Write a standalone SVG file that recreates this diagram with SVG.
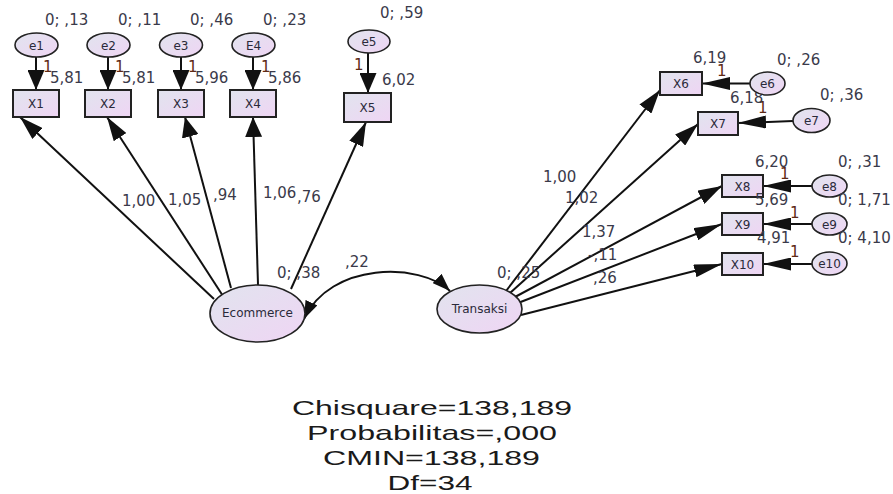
<svg xmlns="http://www.w3.org/2000/svg" width="893" height="494" viewBox="0 0 893 494">
<style>
.bg{fill:#ffffff}
.box{fill:url(#gf);stroke:#222;stroke-width:2}
.ell{fill:url(#gf);stroke:#222;stroke-width:1.6}
.nd{font-family:"DejaVu Sans",sans-serif;font-size:12px;fill:#2a2a3a;text-anchor:middle}
.lbl{font-family:"DejaVu Sans",sans-serif;font-size:15px;fill:#3a3a4a}
.one{font-family:"DejaVu Sans",sans-serif;font-size:15px;fill:#5e2a14}
.fit{font-family:"Liberation Sans",Arial,sans-serif;font-size:21px;fill:#1a1a1a;text-anchor:middle}
.c{fill:none;stroke:#111;stroke-width:2}
.av{marker-end:url(#av)}
.ad{marker-end:url(#ad)}
.ah{marker-end:url(#ah)}
</style>
<defs>
<linearGradient id="gf" x1="0" y1="0" x2="1" y2="1">
<stop offset="0" stop-color="#e1e4ee"/>
<stop offset="1" stop-color="#efd5f4"/>
</linearGradient>
<marker id="av" viewBox="0 -8.5 20 17" refX="20" refY="0" markerWidth="20" markerHeight="17" markerUnits="userSpaceOnUse" orient="auto"><path d="M0,-8.5 L20,0 L0,8.5 Z" fill="#111"/></marker>
<marker id="ad" viewBox="0 -7.5 24 15" refX="24" refY="0" markerWidth="24" markerHeight="15" markerUnits="userSpaceOnUse" orient="auto"><path d="M0,-7.5 L24,0 L0,7.5 Z" fill="#111"/></marker>
<marker id="ah" viewBox="0 -6.5 28 13" refX="28" refY="0" markerWidth="28" markerHeight="13" markerUnits="userSpaceOnUse" orient="auto"><path d="M0,-6.5 L28,0 L0,6.5 Z" fill="#111"/></marker>
<marker id="ac" viewBox="0 -6.5 18 13" refX="18" refY="0" markerWidth="18" markerHeight="13" markerUnits="userSpaceOnUse" orient="auto-start-reverse"><path d="M0,-6.5 L18,0 L0,6.5 Z" fill="#111"/></marker>
</defs>
<rect class="bg" x="0" y="0" width="893" height="494"/>

<g id="connectors">
<line class="c av" x1="36" y1="57" x2="36" y2="90"/>
<line class="c av" x1="108" y1="57" x2="108" y2="90"/>
<line class="c av" x1="181" y1="57" x2="181" y2="90"/>
<line class="c av" x1="253" y1="57" x2="253" y2="90"/>
<line class="c av" x1="368" y1="53" x2="368" y2="93"/>
<line class="c ad" x1="214" y1="299" x2="20" y2="117"/>
<line class="c ad" x1="223" y1="296" x2="107" y2="117"/>
<line class="c av" x1="231" y1="288" x2="185" y2="117"/>
<line class="c av" x1="258" y1="285" x2="253" y2="117"/>
<line class="c ad" x1="291" y1="289" x2="366" y2="122"/>
<path class="c" d="M304,319 C330,262 420,262 450,291" marker-start="url(#ac)" marker-end="url(#ac)"/>
<line class="c ad" x1="506" y1="291" x2="660" y2="90"/>
<line class="c ad" x1="510" y1="293" x2="698" y2="124"/>
<line class="c ad" x1="515" y1="297" x2="722" y2="186"/>
<line class="c ah" x1="518" y1="303" x2="722" y2="224"/>
<line class="c ah" x1="521" y1="315" x2="722" y2="264"/>
<line class="c ah" x1="750" y1="83.5" x2="702" y2="83.5"/>
<line class="c ah" x1="793" y1="121" x2="738" y2="123"/>
<line class="c ah" x1="812" y1="186" x2="763" y2="186"/>
<line class="c ah" x1="812" y1="224" x2="763" y2="224"/>
<line class="c ah" x1="812" y1="264" x2="763" y2="264"/>
</g>

<g id="connector-labels">
<text class="one" x="43" y="72">1</text>
<text class="one" x="115" y="72">1</text>
<text class="one" x="188" y="72">1</text>
<text class="one" x="261" y="72">1</text>
<text class="one" x="354" y="70">1</text>
<text class="one" x="717" y="76">1</text>
<text class="one" x="758" y="113">1</text>
<text class="one" x="780" y="179">1</text>
<text class="one" x="790" y="218">1</text>
<text class="one" x="790" y="257">1</text>
<text class="lbl" x="122" y="206">1,00</text>
<text class="lbl" x="168" y="205">1,05</text>
<text class="lbl" x="213" y="200">,94</text>
<text class="lbl" x="263" y="198">1,06</text>
<text class="lbl" x="297" y="202">,76</text>
<text class="lbl" x="345" y="267">,22</text>
<text class="lbl" x="543" y="182">1,00</text>
<text class="lbl" x="565" y="203">1,02</text>
<text class="lbl" x="582" y="237">1,37</text>
<text class="lbl" x="588" y="260">-,11</text>
<text class="lbl" x="593" y="283">,26</text>
</g>

<g id="e1"><ellipse class="ell" cx="36.5" cy="45" rx="21.5" ry="12"/><text class="nd" x="36.5" y="49.5">e1</text><text class="lbl" x="45" y="25">0; ,13</text></g>
<g id="e2"><ellipse class="ell" cx="108.5" cy="45" rx="21.5" ry="12"/><text class="nd" x="108.5" y="49.5">e2</text><text class="lbl" x="118" y="25">0; ,11</text></g>
<g id="e3"><ellipse class="ell" cx="181" cy="45" rx="21.5" ry="12"/><text class="nd" x="181" y="49.5">e3</text><text class="lbl" x="190" y="25">0; ,46</text></g>
<g id="E4"><ellipse class="ell" cx="253.5" cy="45" rx="21.5" ry="12"/><text class="nd" x="253.5" y="49.5">E4</text><text class="lbl" x="263" y="25">0; ,23</text></g>
<g id="e5"><ellipse class="ell" cx="369" cy="41.5" rx="21" ry="11.5"/><text class="nd" x="369" y="46">e5</text><text class="lbl" x="380" y="18">0; ,59</text></g>

<g id="X1"><rect class="box" x="13" y="90" width="46" height="27"/><text class="nd" x="36" y="108">X1</text><text class="lbl" x="50" y="83">5,81</text></g>
<g id="X2"><rect class="box" x="85" y="90" width="46" height="27"/><text class="nd" x="108" y="108">X2</text><text class="lbl" x="122" y="83">5,81</text></g>
<g id="X3"><rect class="box" x="158" y="90" width="46" height="27"/><text class="nd" x="181" y="108">X3</text><text class="lbl" x="195" y="83">5,96</text></g>
<g id="X4"><rect class="box" x="230" y="90" width="46" height="27"/><text class="nd" x="253" y="108">X4</text><text class="lbl" x="268" y="83">5,86</text></g>
<g id="X5"><rect class="box" x="344" y="93" width="47" height="29"/><text class="nd" x="367.5" y="112">X5</text><text class="lbl" x="382" y="85">6,02</text></g>

<g id="Ecommerce"><ellipse class="ell" cx="257.5" cy="313.5" rx="47.5" ry="28.5"/><text class="nd" x="257.5" y="317">Ecommerce</text><text class="lbl" x="277" y="278">0; ,38</text></g>
<g id="Transaksi"><ellipse class="ell" cx="479.5" cy="309" rx="42.5" ry="24"/><text class="nd" x="479.5" y="313">Transaksi</text><text class="lbl" x="497" y="278">0; ,25</text></g>

<g id="X6"><rect class="box" x="660" y="72" width="42" height="23"/><text class="nd" x="681" y="88">X6</text><text class="lbl" x="693" y="63">6,19</text></g>
<g id="X7"><rect class="box" x="698" y="112" width="40" height="23"/><text class="nd" x="718" y="128">X7</text><text class="lbl" x="730" y="103">6,18</text></g>
<g id="X8"><rect class="box" x="722" y="175" width="41" height="22"/><text class="nd" x="742.5" y="190.5">X8</text><text class="lbl" x="755" y="167">6,20</text></g>
<g id="X9"><rect class="box" x="722" y="213" width="41" height="22"/><text class="nd" x="742.5" y="228.5">X9</text><text class="lbl" x="755" y="205">5,69</text></g>
<g id="X10"><rect class="box" x="722" y="253" width="41" height="22"/><text class="nd" x="742.5" y="268.5">X10</text><text class="lbl" x="757" y="243">4,91</text></g>

<g id="e6"><ellipse class="ell" cx="767.5" cy="83.5" rx="17.5" ry="11.5"/><text class="nd" x="767.5" y="88">e6</text><text class="lbl" x="777" y="65">0; ,26</text></g>
<g id="e7"><ellipse class="ell" cx="811.5" cy="120.5" rx="18.5" ry="12"/><text class="nd" x="811.5" y="125">e7</text><text class="lbl" x="820" y="100">0; ,36</text></g>
<g id="e8"><ellipse class="ell" cx="829.5" cy="186" rx="17.5" ry="11"/><text class="nd" x="829.5" y="190.5">e8</text><text class="lbl" x="838" y="167">0; ,31</text></g>
<g id="e9"><ellipse class="ell" cx="829.5" cy="224" rx="17.5" ry="11"/><text class="nd" x="829.5" y="228.5">e9</text><text class="lbl" x="838" y="205">0; 1,71</text></g>
<g id="e10"><ellipse class="ell" cx="829.5" cy="263.5" rx="17.5" ry="11.5"/><text class="nd" x="829.5" y="268">e10</text><text class="lbl" x="838" y="243">0; 4,10</text></g>

<g id="fit">
<text class="fit" x="432" y="415" textLength="280" lengthAdjust="spacingAndGlyphs">Chisquare=138,189</text>
<text class="fit" x="432" y="440" textLength="250" lengthAdjust="spacingAndGlyphs">Probabilitas=,000</text>
<text class="fit" x="431.5" y="465" textLength="217" lengthAdjust="spacingAndGlyphs">CMIN=138,189</text>
<text class="fit" x="430" y="490" textLength="85" lengthAdjust="spacingAndGlyphs">Df=34</text>
</g>
</svg>
